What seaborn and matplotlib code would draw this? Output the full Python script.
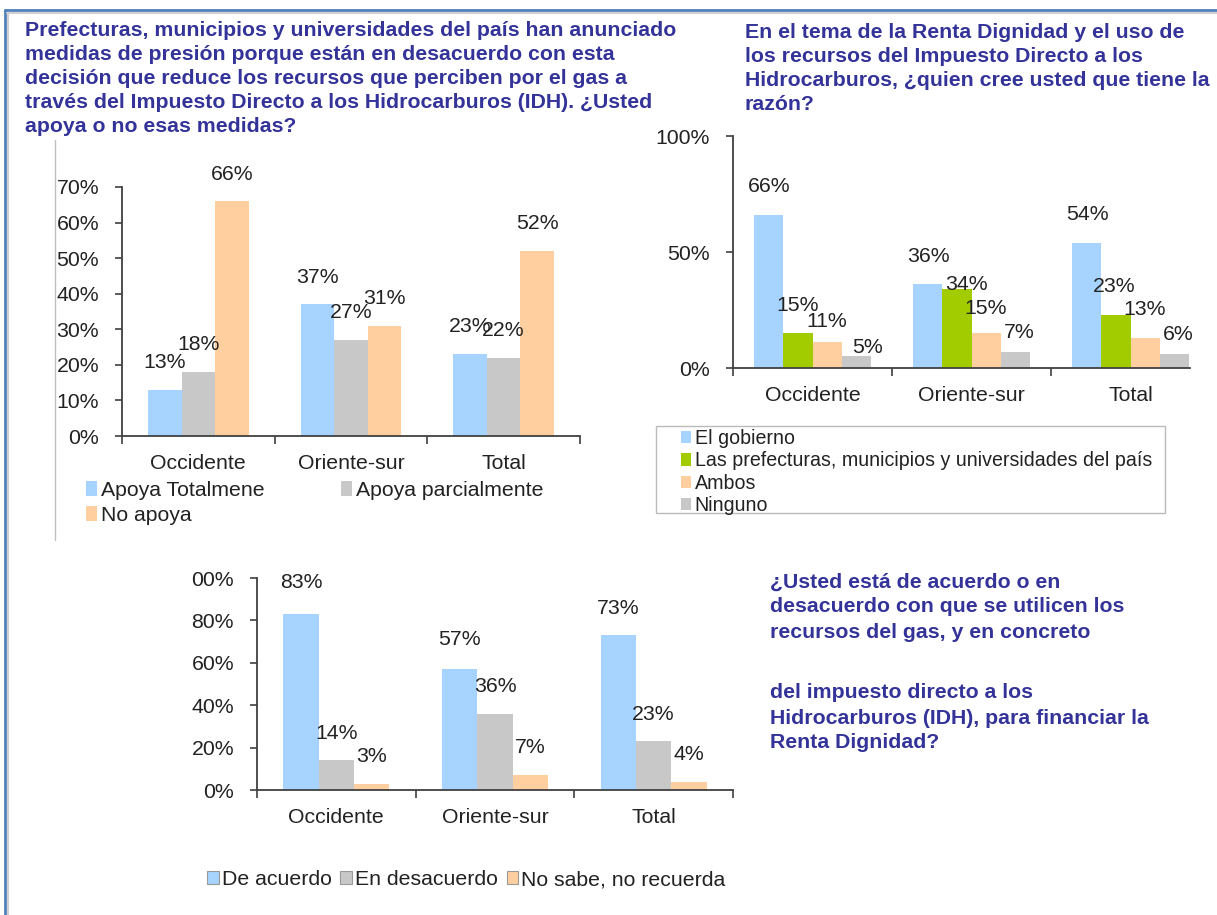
import numpy as np
import pandas as pd
import matplotlib
matplotlib.use("Agg")
import matplotlib.pyplot as plt
import seaborn as sns
from matplotlib.lines import Line2D
from matplotlib.patches import Rectangle

# ---------------- data ----------------
regions = ["Occidente", "Oriente-sur", "Total"]

c1_series = ["Apoya Totalmene", "Apoya parcialmente", "No apoya"]
c1_apoya_total = [13, 37, 23]
c1_apoya_parcial = [18, 27, 22]
c1_no_apoya = [66, 31, 52]
c1_yticks = [0, 10, 20, 30, 40, 50, 60, 70]
c1_yticklabels = ["0%", "10%", "20%", "30%", "40%", "50%", "60%", "70%"]

c2_series = ["El gobierno", "Las prefecturas, municipios y universidades del país",
             "Ambos", "Ninguno"]
c2_gobierno = [66, 36, 54]
c2_prefecturas = [15, 34, 23]
c2_ambos = [11, 15, 13]
c2_ninguno = [5, 7, 6]
c2_yticks = [0, 50, 100]
c2_yticklabels = ["0%", "50%", "100%"]

c3_series = ["De acuerdo", "En desacuerdo", "No sabe, no recuerda"]
c3_acuerdo = [83, 57, 73]
c3_desacuerdo = [14, 36, 23]
c3_nosabe = [3, 7, 4]
c3_yticks = [0, 20, 40, 60, 80, 100]
c3_yticklabels = ["0%", "20%", "40%", "60%", "80%", "00%"]

title1 = ["Prefecturas, municipios y universidades del país han anunciado",
          "medidas de presión porque están en desacuerdo con esta",
          "decisión que reduce los recursos que perciben por el gas a",
          "través del Impuesto Directo a los Hidrocarburos (IDH). ¿Usted",
          "apoya o no esas medidas?"]
title2 = ["En el tema de la Renta Dignidad y el uso de",
          "los recursos del Impuesto Directo a los",
          "Hidrocarburos, ¿quien cree usted que tiene la",
          "razón?"]
title3a = ["¿Usted está de acuerdo o en",
           "desacuerdo con que se utilicen los",
           "recursos del gas, y en concreto"]
title3b = ["del impuesto directo a los",
           "Hidrocarburos (IDH), para financiar la",
           "Renta Dignidad?"]

# ---------------- style ----------------
sns.set_theme(style="white")
plt.rcParams["font.family"] = ["Liberation Sans", "DejaVu Sans"]

BLUE = "#A6D3FF"
GRAY = "#C8C8C8"
PEACH = "#FFCFA0"
GREEN = "#A2CC00"
TITLE_C = "#333399"
TXT = "#222222"
SPINE = "#404040"
FS = 15.3

W, H = 1217, 915
fig = plt.figure(figsize=(W / 100, H / 100), dpi=100)


def px_rect(x0, x1, ytop, ybot):
    return [x0 / W, 1 - ybot / H, (x1 - x0) / W, (ybot - ytop) / H]


def long_df(series, cols):
    return pd.DataFrame({
        "region": regions * len(series),
        "serie": np.repeat(series, len(regions)),
        "valor": np.concatenate(cols),
    })


def draw_chart(rect, series, cols, palette, width, ymax, yticks, yticklabels,
               xmax=2.5, label_dy=None, label_dx=None):
    ax = fig.add_axes(rect)
    df = long_df(series, cols)
    sns.barplot(data=df, x="region", y="valor", hue="serie", hue_order=series,
                palette=palette, width=width, gap=0, saturation=1, linewidth=0,
                legend=False, ax=ax, errorbar=None)
    for i, (cont, vals) in enumerate(zip(ax.containers, cols)):
        for j, (bar, v) in enumerate(zip(cont, vals)):
            dy = 27.2 if label_dy is None else label_dy[j][i]
            dx = 0 if label_dx is None else label_dx[j][i]
            ax.annotate(f"{v}%", xy=(bar.get_x() + bar.get_width() / 2, bar.get_height()),
                        xytext=(dx * 0.72, dy * 0.72), textcoords="offset points",
                        ha="center", va="center", fontsize=FS, color=TXT,
                        annotation_clip=False)
    ax.set_xlim(-0.5, xmax)
    ax.set_ylim(0, ymax)
    ax.set_yticks(yticks)
    ax.set_yticklabels(yticklabels)
    ax.set_xticks(range(len(regions)))
    ax.set_xticklabels(regions)
    ax.set_xticks([t for t in [-0.5, 0.5, 1.5, 2.5] if t <= xmax], minor=True)
    ax.set_xlabel("")
    ax.set_ylabel("")
    for s in ["top", "right"]:
        ax.spines[s].set_visible(False)
    for s in ["left", "bottom"]:
        ax.spines[s].set_color(SPINE)
        ax.spines[s].set_linewidth(1.3)
    ax.tick_params(axis="y", which="major", length=5, width=1.2, color=SPINE,
                   direction="out", pad=11.5, labelsize=FS, labelcolor=TXT, left=True)
    ax.tick_params(axis="x", which="major", length=0, pad=13, labelsize=FS,
                   labelcolor=TXT)
    ax.tick_params(axis="x", which="minor", length=6, width=1.2, color=SPINE,
                   direction="out", bottom=True)
    ax.set_facecolor("none")
    ax.grid(False)
    return ax


# Chart 1
ax1 = draw_chart(px_rect(122, 580, 187, 436), c1_series,
                 [c1_apoya_total, c1_apoya_parcial, c1_no_apoya],
                 [BLUE, GRAY, PEACH], 0.66, 70, c1_yticks, c1_yticklabels)

# Chart 2 (plot area cut at the right edge of the picture)
c2_dy = [[28, 28, 21, 9], [28, 5, 25, 19], [28, 28, 28, 20]]
c2_dx = [[0, 0, 0, 12], [0, 9, 0, 4], [0, -2, 0, 4]]
c2_catw = 159.0
c2_x0, c2_x1 = 733, 1190
ax2 = draw_chart(px_rect(c2_x0, c2_x1, 136, 368), c2_series,
                 [c2_gobierno, c2_prefecturas, c2_ambos, c2_ninguno],
                 [BLUE, GREEN, PEACH, GRAY], 0.73, 100, c2_yticks, c2_yticklabels,
                 xmax=-0.5 + (c2_x1 - c2_x0) / c2_catw, label_dy=c2_dy, label_dx=c2_dx)

# Chart 3
c3_dy = [[32, 27.2, 27.2], [30, 27.2, 27.2], [27.2, 27.2, 27.2]]
ax3 = draw_chart(px_rect(257, 733, 578, 790), c3_series,
                 [c3_acuerdo, c3_desacuerdo, c3_nosabe],
                 [BLUE, GRAY, PEACH], 0.67, 100, c3_yticks, c3_yticklabels,
                 label_dy=c3_dy)

# ---------------- legends ----------------
def patches(colors, ec="none", lw=0):
    return [Rectangle((0, 0), 1, 1, facecolor=c, edgecolor=ec, linewidth=lw)
            for c in colors]

h1 = patches([BLUE, GRAY, PEACH])
fig.legend(handles=[h1[0], h1[2], h1[1]],
           labels=[c1_series[0], c1_series[2], c1_series[1]],
           ncol=2, loc="upper left", bbox_to_anchor=(86 / W, 1 - 481 / H),
           frameon=False, fontsize=FS, handlelength=0.5, handleheight=0.65,
           handletextpad=0.2, columnspacing=3.6, labelspacing=0.28,
           borderpad=0, borderaxespad=0, labelcolor=TXT)

h2 = patches([BLUE, GREEN, PEACH, GRAY])
fig.legend(handles=h2, labels=c2_series, ncol=1, loc="upper left",
           bbox_to_anchor=(681 / W, 1 - 429 / H), frameon=False, fontsize=14.1,
           handlelength=0.5, handleheight=0.6, handletextpad=0.2,
           labelspacing=0.17, borderpad=0, borderaxespad=0, labelcolor=TXT)
fig.add_artist(Rectangle((656 / W, 1 - 513 / H), (1165 - 656) / W, (513 - 426) / H,
                         transform=fig.transFigure, facecolor="none",
                         edgecolor="#BBBBBB", linewidth=1))

h3 = patches([BLUE, GRAY, PEACH], ec="#999999", lw=0.8)
fig.legend(handles=h3, labels=c3_series, ncol=3, loc="upper left",
           bbox_to_anchor=(207 / W, 1 - 870 / H), frameon=False, fontsize=FS,
           handlelength=0.55, handleheight=0.6, handletextpad=0.15,
           columnspacing=0.4, borderpad=0, borderaxespad=0, labelcolor=TXT)

# ---------------- titles ----------------
def text_lines(lines, x, ys):
    for line, y in zip(lines, ys):
        fig.text(x / W, 1 - y / H, line, fontsize=FS, fontweight="bold",
                 color=TITLE_C, ha="left", va="center")

text_lines(title1, 25, [31, 54, 78, 102, 126])
text_lines(title2, 745, [33, 57, 81, 105])
text_lines(title3a, 770, [582, 607, 632])
text_lines(title3b, 770, [693, 718, 743])

# ---------------- slide frame ----------------
fig.add_artist(Line2D([5 / W, 1], [1 - 10 / H, 1 - 10 / H], transform=fig.transFigure,
                      color="#4F81BD", linewidth=2))
fig.add_artist(Line2D([5 / W, 5 / W], [0, 1 - 10 / H], transform=fig.transFigure,
                      color="#4F81BD", linewidth=2))
fig.add_artist(Line2D([7 / W, 1], [1 - 13 / H, 1 - 13 / H], transform=fig.transFigure,
                      color="#D0D0D0", linewidth=1.5))
fig.add_artist(Line2D([8 / W, 8 / W], [0, 1 - 13 / H], transform=fig.transFigure,
                      color="#D0D0D0", linewidth=1.5))
fig.add_artist(Line2D([55 / W, 55 / W], [1 - 540 / H, 1 - 140 / H],
                      transform=fig.transFigure, color="#C0C0C0", linewidth=1))

fig.savefig("out.png", dpi=100, facecolor="white")
